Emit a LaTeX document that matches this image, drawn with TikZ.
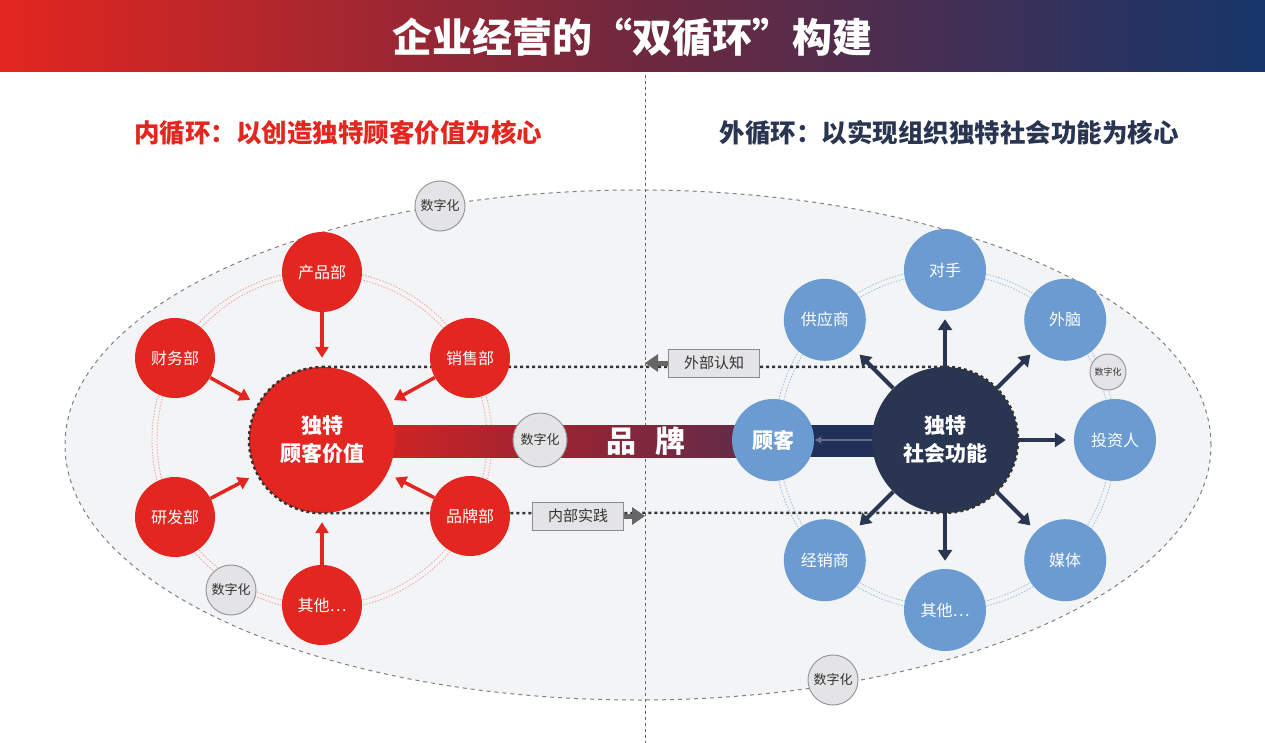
\documentclass[tikz,border=0pt]{standalone}
\usepackage{fontspec}
\setmainfont{Noto Sans CJK SC}
\usetikzlibrary{arrows.meta,positioning,calc}
\definecolor{cred}{HTML}{E3261F}
\definecolor{cnavy}{HTML}{2A3551}
\definecolor{cband}{HTML}{21305B}
\definecolor{cblue}{HTML}{6B9BD1}
\definecolor{cmaroon}{HTML}{70283E}
\definecolor{cwine}{HTML}{9C2331}
\definecolor{cplum}{HTML}{5A2C4C}
\definecolor{cbar}{HTML}{16366A}
\definecolor{cgrey}{HTML}{E4E4E6}
\definecolor{cfield}{HTML}{F3F4F6}
\tikzset{dept/.style={circle,fill=cred,text=white,minimum size=80pt,inner sep=0pt,font=\fontsize{16}{18}\selectfont},partner/.style={circle,fill=cblue,text=white,minimum size=82pt,inner sep=0pt,font=\fontsize{16}{18}\selectfont},hub/.style={circle,minimum size=146pt,inner sep=0pt,text=white,align=center,font=\bfseries\fontsize{21}{28}\selectfont},digi/.style={circle,draw=black!40,fill=cgrey,line width=1pt,minimum size=50pt,inner sep=0pt,text=black!80,font=\fontsize{13}{15}\selectfont},tag/.style={draw=black!45,fill=cgrey,line width=0.8pt,minimum width=91pt,minimum height=28pt,inner sep=0pt,text=black!80,font=\fontsize{15}{17}\selectfont},feed/.style={-{Triangle[length=11pt,width=13pt]},line width=3.5pt,cred,shorten >=9pt},push/.style={-{Triangle[length=11pt,width=14pt]},line width=4pt,cnavy,shorten >=8pt},loopline/.style={line width=2.5pt,black!80,dash pattern=on 3pt off 3pt},cue/.style={-{Triangle[length=13pt,width=17pt]},line width=5pt,black!60},ring/.style={line width=0.9pt,dash pattern=on 1.5pt off 1.5pt}}

\begin{document}
\begin{tikzpicture}[x=1pt,y=-1pt]
\useasboundingbox (0,0) rectangle (1265,743);
% banner
\shade[left color=cred,right color=cbar,middle color=cmaroon] (0,0) rectangle (1265,72);
\node[text=white,font=\bfseries\fontsize{40}{44}\selectfont] (title) at (632,37) {企业经营的“双循环”构建};
\node[text=cred,font=\bfseries\fontsize{25.5}{28}\selectfont] (innerhead) at (338,133) {内循环：以创造独特顾客价值为核心};
\node[text=cnavy,font=\bfseries\fontsize{25.5}{28}\selectfont] (outerhead) at (949,133) {外循环：以实现组织独特社会功能为核心};
% field
\draw[fill=cfield,draw=black!50,line width=1pt,dash pattern=on 4pt off 4pt] (638,445) ellipse [x radius=573pt,y radius=255pt];
\draw[black!60,line width=0.9pt,dash pattern=on 3pt off 3pt] (645,75) -- (645,743);
\draw[ring,cred!40] (322,440) circle [radius=165pt] (322,440) circle [radius=170pt];
\draw[ring,cblue!60] (945,440) circle [radius=166pt] (945,440) circle [radius=171pt];
% brand band
\shade[left color=cred,right color=cplum,middle color=cwine] (322,425) rectangle (773,457);
\fill[cband] (773,425) rectangle (945,457);
\node[text=white,font=\bfseries\fontsize{30}{32}\selectfont] (brandname) at (646,441) {品\hspace{20pt}牌};
% hubs
\node[hub,fill=cred] (cv) at (322,440) {独特\\顾客价值};
\node[hub,fill=cnavy] (sf) at (945,440) {独特\\社会功能};
\draw[loopline] (cv.north) -- (sf.north) arc[start angle=90,end angle=-90,radius=73pt] -- (cv.south) arc[start angle=270,end angle=90,radius=73pt];
% inner loop
\node[dept] (prod) at (322,272) {产品部};
\node[dept] (sales) at (470,358) {销售部};
\node[dept] (brand) at (470,516) {品牌部};
\node[dept] (other) at (322,605) {其他\ldots};
\node[dept] (rd) at (175,517) {研发部};
\node[dept] (fin) at (175,358) {财务部};
\foreach \d in {prod,sales,brand,other,rd,fin} \draw[feed] (\d) -- (cv);
% outer loop
\node[partner,font=\bfseries\fontsize{21}{24}\selectfont] (cust) at ($(sf)+(180:172pt)$) {顾客};
\draw[-{Latex[length=7pt,width=8pt]},line width=2pt,cband!70!white] (sf.west) -- (cust.east);
\foreach \a/\n/\t in {90/rival/对手,45/brain/外脑,0/invest/投资人,-45/media/媒体,-90/others/{其他\ldots},-135/dealer/经销商,135/supply/供应商} {
  \node[partner] (\n) at ($(sf)+(\a:170pt)$) {\t};
  \draw[push] (sf) -- (\n);
}
% cross flows
\node[tag] (ext) at (714,363) {外部认知};
\node[tag] (int) at (578,516) {内部实践};
\coordinate (gateup) at (645,363);
\coordinate (gatedn) at (645,516);
\draw[cue] (ext) -- (gateup);
\draw[cue] (int) -- (gatedn);
% digital
\node[digi] (dtop) at (440,206) {数字化};
\node[digi] (dleft) at (231,590) {数字化};
\node[digi,minimum size=54pt] (dband) at (540,440) {数字化};
\node[digi] (dbottom) at (833,680) {数字化};
\node[digi,minimum size=36pt,font=\fontsize{9}{10}\selectfont] (dright) at (1108,372) {数字化};
\end{tikzpicture}
\end{document}
